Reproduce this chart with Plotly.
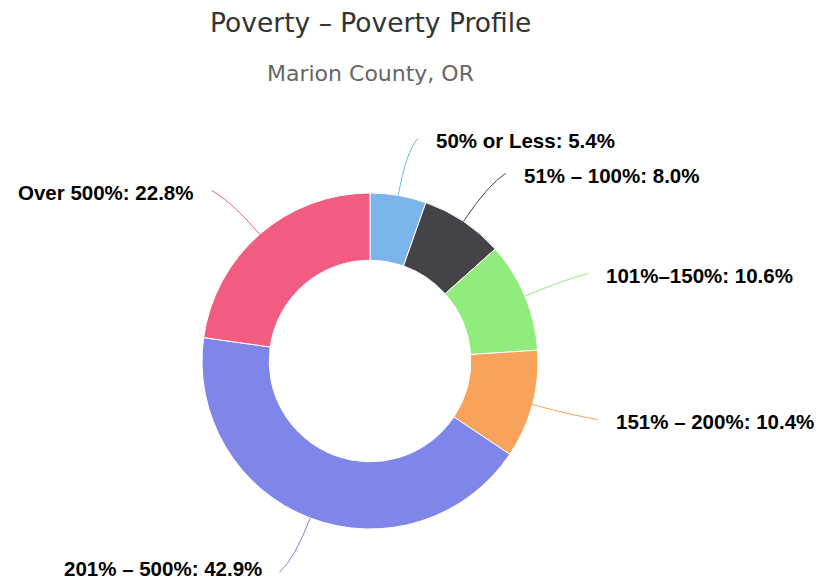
import math
import plotly.graph_objects as go

# ---- data ----
categories = ["50% or Less", "51% – 100%", "101%–150%", "151% – 200%", "201% – 500%", "Over 500%"]
values = [5.4, 8.0, 10.6, 10.4, 42.9, 22.8]
colors = ["#7cb5ec", "#434348", "#90ed7d", "#f7a35c", "#8085e9", "#f15c80"]
title_text = "Poverty – Poverty Profile"
subtitle_text = "Marion County, OR"

# page body has an 8px margin; lay out in window pixels and convert
OFF = 8
W, H = 823 - OFF, 584 - OFF
CX, CY, R = 370, 361, 168  # pie centre / radius in window pixels
LABEL_FONT = 20.5


def px(x):
    return (x - OFF) / W


def py(y):
    return 1 - (y - OFF) / H


fig = go.Figure()
fig.add_trace(go.Pie(
    labels=categories,
    values=values,
    marker=dict(colors=colors, line=dict(color="#ffffff", width=1)),
    hole=0.6,
    sort=False,
    direction="clockwise",
    rotation=0,
    textinfo="none",
    hovertemplate="%{label}: %{value:.1f}%<extra></extra>",
    domain=dict(x=[px(CX - R), px(CX + R)], y=[py(CY + R), py(CY - R)]),
))

# connectors and labels computed from the data
total = sum(values)
cum = 0.0
shapes = []
annotations = []
for lab, v, c in zip(categories, values, colors):
    mid = (cum + v / 2) / total * 2 * math.pi
    cum += v
    s, co = math.sin(mid), math.cos(mid)
    side = 1 if s >= 0 else -1
    x0, y0 = CX + R * s, CY - R * co
    xc, yc = CX + 212 * s, CY - 212 * co
    x1, y1 = CX + 226 * s + 10 * side, CY - 226 * co
    label_y = min(y1 + 2, 584 - LABEL_FONT * 0.75)  # keep label inside the window
    shapes.append(dict(
        type="path", xref="paper", yref="paper",
        path=f"M {px(x0)},{py(y0)} Q {px(xc)},{py(yc)} {px(x1)},{py(y1)}",
        line=dict(color=c, width=1),
    ))
    annotations.append(dict(
        x=px(x1 + 16 * side), y=py(label_y), xref="paper", yref="paper",
        text=f"<b>{lab}: {v:.1f}%</b>", showarrow=False,
        xanchor="left" if side > 0 else "right", yanchor="middle",
        font=dict(family="Liberation Sans, Arial, sans-serif", size=LABEL_FONT, color="#000000"),
    ))

annotations.append(dict(
    x=px(370), y=py(22), xref="paper", yref="paper", text=title_text,
    showarrow=False, xanchor="center", yanchor="middle",
    font=dict(family="DejaVu Sans, Verdana, sans-serif", size=26.5, color="#333333"),
))
annotations.append(dict(
    x=px(370), y=py(73), xref="paper", yref="paper", text=subtitle_text,
    showarrow=False, xanchor="center", yanchor="middle",
    font=dict(family="DejaVu Sans, Verdana, sans-serif", size=22, color="#666666"),
))

fig.update_layout(
    width=W, height=H,
    margin=dict(l=0, r=0, t=0, b=0),
    paper_bgcolor="#ffffff",
    plot_bgcolor="#ffffff",
    showlegend=False,
    shapes=shapes,
    annotations=annotations,
)

fig.write_html("out.html")
